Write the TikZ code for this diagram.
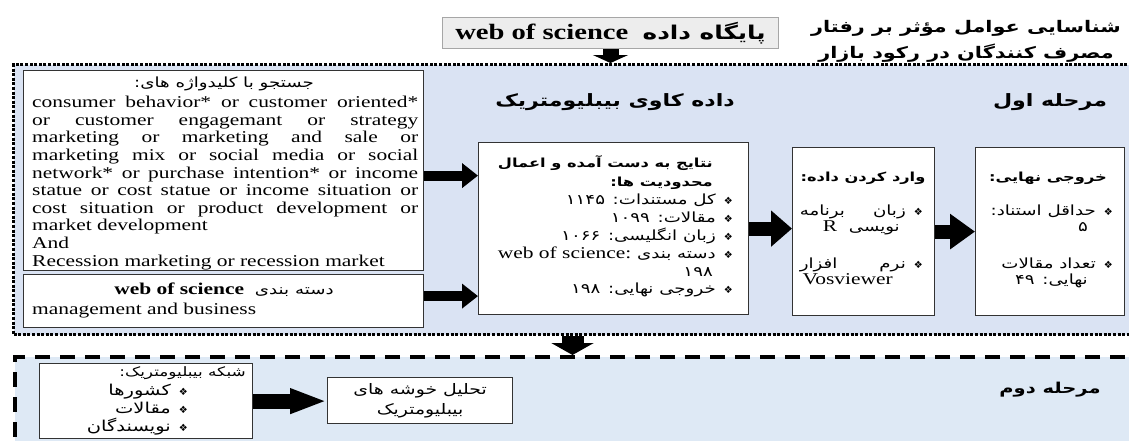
\documentclass[tikz,border=0pt]{standalone}
\usepackage{fontspec}
\usetikzlibrary{arrows.meta}
\TeXXeTstate=1
\setmainfont{Liberation Serif}[FakeStretch=1.3]
\newfontfamily\lat{Liberation Serif}[FakeStretch=1.3]
\newfontfamily\ar{DejaVu Sans}[Script=Arabic,FakeStretch=1.3]
\newfontfamily\bul{DejaVu Sans}
\definecolor{stA}{HTML}{DAE3F3}
\definecolor{stB}{HTML}{DEE9F5}
\definecolor{topfill}{HTML}{EDEDED}
\definecolor{topline}{HTML}{A6A6A6}
\newcommand\fs[2]{\fontsize{#1}{#2}\selectfont}
\newcommand\myR[1]{\beginR #1\endR}
\newcommand\myL[1]{\beginL #1\endL}
\newcommand\bl{{\bul\fs{10}{12}❖}}
\begin{document}
\begin{tikzpicture}[x=1pt,y=-1pt,
  box/.style={draw=black!80, line width=1.2pt, fill=white, inner sep=0pt, anchor=north west},
  barrow/.style n args={3}{line width=#1, -{Triangle[length=#2, width=#3]}},
  ptxt/.style={font=\ar\fs{14}{17.8}, inner sep=0pt},
  phead/.style={font=\ar\bfseries\fs{12.5}{19}, inner sep=0pt}]
\useasboundingbox (0,0) rectangle (1129,440);
\begin{scope}
\clip (0,0) rectangle (1129,440);
\node[draw, line width=3pt, dash pattern=on 3pt off 1.6pt, fill=stA, minimum width=1128pt, minimum height=270pt, anchor=north west, inner sep=0pt] (st1) at (12,63) {};
\node[draw, line width=4pt, dash pattern=on 15pt off 10pt, fill=stB, minimum width=1130pt, minimum height=100pt, anchor=north west, inner sep=0pt] (st2) at (13,355) {};
\end{scope}
% top database box
\node[box, draw=topline, fill=topfill, line width=1pt, minimum width=336pt, minimum height=31pt, font=\lat\bfseries\fs{22}{24}] (db) at (442,17) {\myR{{\ar\bfseries\fs{19}{20}پایگاه داده}\ \ \myL{web of science}}};
% boxes
\node[box, minimum width=400pt, minimum height=200pt] (kw) at (23,70) {};
\node[box, minimum width=400pt, minimum height=53pt] (cat) at (23,274) {};
\node[box, minimum width=270pt, minimum height=172pt] (res) at (478,142) {};
\node[box, minimum width=142pt, minimum height=168pt] (imp) at (792,147) {};
\node[box, minimum width=149pt, minimum height=168pt] (fin) at (975,147) {};
\node[box, minimum width=213pt, minimum height=75pt] (net) at (39,363) {};
\node[box, minimum width=185pt, minimum height=46pt, font=\ar\fs{14.5}{20}, align=center] (clu) at (327,377) {\myR{تحلیل خوشه های}\\\myR{بیبلیومتریک}};
% arrows
\draw[barrow={16pt}{8pt}{35pt}] (db.south) -- (db.south |- st1.north);
\draw[barrow={22pt}{12pt}{42pt}] ([xshift=-5pt]st1.south) -- ([xshift=-5pt]st1.south |- st2.north);
\draw[barrow={10pt}{16pt}{24pt}] ([yshift=-5pt]kw.east) -- ([yshift=-5pt]kw.east -| res.west);
\draw[barrow={10pt}{16pt}{24pt}] ([yshift=5pt]cat.east) -- ([yshift=5pt]cat.east -| res.west);
\draw[barrow={14pt}{21pt}{35pt}] (res.east) -- (res.east -| imp.west);
\draw[barrow={14pt}{25pt}{34pt}] (imp.east) -- (imp.east -| fin.west);
\draw[barrow={15pt}{37pt}{23pt}] (net.east) -- (net.east -| clu.west);
% stage labels
\node[font=\ar\bfseries\fs{17}{20}] (dm) at (615,102) {\myR{داده کاوی بیبلیومتریک}};
\node[font=\ar\bfseries\fs{17}{20}] (s1) at (1050,102) {\myR{مرحله اول}};
\node[font=\ar\bfseries\fs{15}{18}] (s2) at (1050,390) {\myR{مرحله دوم}};
% keywords box
\node[font=\ar\fs{14}{16}] (kwh) at (224,84) {\myR{جستجو با کلیدواژه های:}};
\node[anchor=north west, inner sep=0pt, align=left, font=\lat\fs{16.5}{17.6}] (kwt) at (32,96) {%
\makebox[386pt][s]{consumer behavior* or customer oriented*}\\
\makebox[386pt][s]{or customer engagemant or strategy}\\
\makebox[386pt][s]{marketing or marketing and sale or}\\
\makebox[386pt][s]{marketing mix or social media or social}\\
\makebox[386pt][s]{network* or purchase intention* or income}\\
\makebox[386pt][s]{statue or cost statue or income situation or}\\
\makebox[386pt][s]{cost situation or product development or}\\
market development\\
And\\
Recession marketing or recession market};
% category box
\node[font=\lat\bfseries\fs{16.5}{18}] (cath) at (224,290) {\myR{{\ar\mdseries\fs{14}{16}دسته بندی}\ \ \myL{web of science}}};
\node[anchor=base west, inner sep=0pt, font=\lat\fs{16.5}{18}] (mgmt) at (32,314) {management and business};
% results box
\node[phead, anchor=north east, align=right] (resh) at (713,155) {%
\myR{نتایج به دست آمده و اعمال}\\
\myR{محدودیت ها:}};
\node[ptxt, anchor=north east, align=right] (rest) at (733,194) {%
\myR{\bl\hspace{8pt}کل مستندات: ۱۱۴۵}\\
\myR{\bl\hspace{8pt}مقالات: ۱۰۹۹}\\
\myR{\bl\hspace{8pt}زبان انگلیسی: ۱۰۶۶}\\
\myR{\bl\hspace{8pt}دسته بندی {\lat\fs{16.5}{17.8}\myL{web of science:}}}\\
\myR{۱۹۸}\kern20pt\\
\myR{\bl\hspace{8pt}خروجی نهایی: ۱۹۸}};
% import box
\node[phead] (imph) at (863,178) {\myR{وارد کردن داده:}};
\node[ptxt, anchor=north east, align=right, font=\ar\fs{14}{16}] (imp1) at (923,205) {%
\hbox to 123pt{برنامه\hfill زبان\hspace{8pt}\bl}\\
\myR{نویسی\ \ {\lat\fs{16.5}{16}R}}\kern23pt};
\node[ptxt, anchor=north east, align=right, font=\ar\fs{14}{16}] (imp2) at (923,258) {%
\hbox to 123pt{افزار\hfill نرم\hspace{8pt}\bl}\\
{\lat\fs{16.5}{16}Vosviewer}\kern30pt};
% final box
\node[phead] (finh) at (1048,178) {\myR{خروجی نهایی:}};
\node[ptxt, anchor=north east, align=right, font=\ar\fs{14}{16}] (fin1) at (1113,205) {%
\myR{\bl\hspace{8pt}حداقل استناد:}\\
\myR{۵}\kern25pt};
\node[ptxt, anchor=north east, align=right, font=\ar\fs{14}{16}] (fin2) at (1113,258) {%
\myR{\bl\hspace{8pt}تعداد مقالات}\\
\myR{نهایی: ۴۹}\kern25pt};
% network box
\node[ptxt, anchor=east, font=\ar\fs{13}{17}] (neth) at (246,373) {\myR{شبکه بیبلیومتریک:}};
\node[ptxt, anchor=north east, align=right, font=\ar\fs{15}{18}] (neti) at (188,384) {%
\myR{\bl\hspace{8pt}کشورها}\\
\myR{\bl\hspace{8pt}مقالات}\\
\myR{\bl\hspace{8pt}نویسندگان}};
% title
\node[font=\ar\bfseries\fs{16}{26}, align=center] (title) at (966,41) {\myR{شناسایی عوامل مؤثر بر رفتار}\\\myR{مصرف کنندگان در رکود بازار}};
\end{tikzpicture}
\end{document}
